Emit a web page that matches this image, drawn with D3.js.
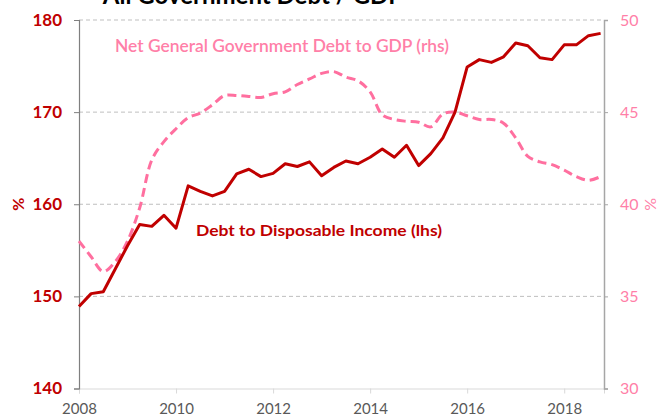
<!DOCTYPE html>
<html>
<head>
<meta charset="utf-8">
<script src="https://cdn.jsdelivr.net/npm/d3@7"></script>
<style>
  html, body { margin: 0; padding: 0; background: #fff; }
  svg { display: block; font-family: Lato, "Open Sans", sans-serif; }
</style>
</head>
<body>
<div id="chart"></div>
<script>
// Quarterly observations, 2008 Q1 – 2018 Q4
const years = d3.range(2008, 2019);
const quarters = years.flatMap(y => [0, 0.25, 0.5, 0.75].map(q => y + q));

// Debt to disposable income, % (left axis)
const debtToIncome = [
  148.9, 150.3, 150.5, 153.0,
  155.5, 157.8, 157.6, 158.8,
  157.4, 162.0, 161.4, 160.9,
  161.4, 163.3, 163.8, 163.0,
  163.35, 164.4, 164.1, 164.6,
  163.1, 164.0, 164.7, 164.4,
  165.1, 166.0, 165.1, 166.4,
  164.2, 165.5, 167.2, 170.0,
  174.9, 175.7, 175.4, 176.0,
  177.5, 177.2, 175.9, 175.7,
  177.3, 177.3, 178.3, 178.55
];

// Net general government debt to GDP, % (right axis)
const netDebtToGdp = [
  38.0, 37.15, 36.35, 36.9,
  38.0, 39.8, 42.4, 43.4,
  44.1, 44.7, 44.95, 45.4,
  45.9, 45.9, 45.85, 45.8,
  46.0, 46.1, 46.5, 46.8,
  47.1, 47.2, 46.9, 46.7,
  46.1, 44.85, 44.6, 44.5,
  44.45, 44.2, 44.9, 45.0,
  44.8, 44.6, 44.6, 44.4,
  43.6, 42.6, 42.3, 42.15,
  41.85, 41.5, 41.3, 41.5
];

const leftTicks = [140, 150, 160, 170, 180];
const rightTicks = [30, 35, 40, 45, 50];
const yearTicks = [2008, 2010, 2012, 2014, 2016, 2018];

const title = "All Government Debt / GDP";
const labelRhs = "Net General Government Debt to GDP (rhs)";
const labelLhs = "Debt to Disposable Income (lhs)";

const W = 660, H = 417;
const red = "#C00000", pink = "#FF6F9F", pinkText = "#FF7FA8", grey = "#595959";

const svg = d3.select("#chart").append("svg")
  .attr("width", W).attr("height", H);

const x = d3.scaleLinear().domain([2008, 2018.82]).range([79, 604]);
const yL = d3.scaleLinear().domain([140, 180]).range([388.5, 20]);
const yR = d3.scaleLinear().domain([30, 50]).range([388.5, 20]);

// title (sits partly above the top edge)
svg.append("text")
  .attr("x", 253).attr("y", 4)
  .attr("text-anchor", "middle")
  .attr("font-size", 24).attr("font-weight", 700)
  .attr("fill", "#000")
  .text(title);

// horizontal gridlines
svg.append("g").selectAll("line")
  .data(leftTicks.filter(d => d > 140))
  .join("line")
  .attr("x1", x.range()[0]).attr("x2", x.range()[1])
  .attr("y1", d => yL(d)).attr("y2", d => yL(d))
  .attr("stroke", "#BFBFBF").attr("stroke-width", 1)
  .attr("stroke-dasharray", "4,3");

// x axis
const xAxis = svg.append("g")
  .attr("transform", `translate(0,${yL(140)})`)
  .call(d3.axisBottom(x).tickValues(yearTicks).tickFormat(d3.format("d")).tickSize(5).tickPadding(10));
xAxis.select(".domain").attr("stroke", "#D9D9D9");
xAxis.selectAll(".tick line").attr("stroke", "#D9D9D9");
xAxis.selectAll("text").attr("fill", grey).attr("font-size", 15).attr("font-family", "Lato, sans-serif");

// left axis
const leftAxis = svg.append("g")
  .attr("transform", `translate(${x.range()[0]},0)`)
  .call(d3.axisLeft(yL).tickValues(leftTicks).tickSize(5).tickPadding(12));
leftAxis.select(".domain").attr("stroke", "#7F7F7F").attr("stroke-width", 1.2);
leftAxis.selectAll(".tick line").attr("stroke", "#7F7F7F");
leftAxis.selectAll("text").attr("fill", red).attr("font-size", 17)
  .attr("font-weight", 700).attr("font-family", "Lato, sans-serif");

// right axis
const rightAxis = svg.append("g")
  .attr("transform", `translate(${x.range()[1]},0)`)
  .call(d3.axisRight(yR).tickValues(rightTicks).tickSize(4).tickPadding(12));
rightAxis.select(".domain").attr("stroke", "#A6A6A6").attr("stroke-width", 1.5);
rightAxis.selectAll(".tick line").attr("stroke", "#A6A6A6");
rightAxis.selectAll("text").attr("fill", pinkText).attr("font-size", 16)
  .attr("font-family", "Lato, sans-serif");

// axis unit labels
svg.append("text")
  .attr("transform", `translate(24,${yL(160)}) rotate(-90)`)
  .attr("text-anchor", "middle")
  .attr("font-size", 16).attr("font-weight", 700).attr("fill", red)
  .text("%");
svg.append("text")
  .attr("transform", `translate(656,${yR(40)}) rotate(-90)`)
  .attr("text-anchor", "middle")
  .attr("font-size", 16).attr("fill", pinkText)
  .text("%");

// net government debt line (smoothed, dashed)
const pinkLine = d3.line()
  .x((d, i) => x(quarters[i]))
  .y(d => yR(d))
  .curve(d3.curveCatmullRom.alpha(0.5));
svg.append("path")
  .datum(netDebtToGdp)
  .attr("d", pinkLine)
  .attr("fill", "none")
  .attr("stroke", pink).attr("stroke-width", 3)
  .attr("stroke-dasharray", "9,5");

// household debt line
const redLine = d3.line()
  .x((d, i) => x(quarters[i]))
  .y(d => yL(d));
svg.append("path")
  .datum(debtToIncome)
  .attr("d", redLine)
  .attr("fill", "none")
  .attr("stroke", red).attr("stroke-width", 3)
  .attr("stroke-linejoin", "round");

// series labels
svg.append("text")
  .attr("x", 115).attr("y", 52)
  .attr("font-size", 16.5).attr("font-weight", 600).attr("fill", pinkText)
  .attr("textLength", 334).attr("lengthAdjust", "spacingAndGlyphs")
  .text(labelRhs);
svg.append("text")
  .attr("x", 196).attr("y", 236)
  .attr("font-size", 16).attr("font-weight", 700).attr("fill", red)
  .attr("textLength", 246).attr("lengthAdjust", "spacingAndGlyphs")
  .text(labelLhs);
</script>
</body>
</html>
